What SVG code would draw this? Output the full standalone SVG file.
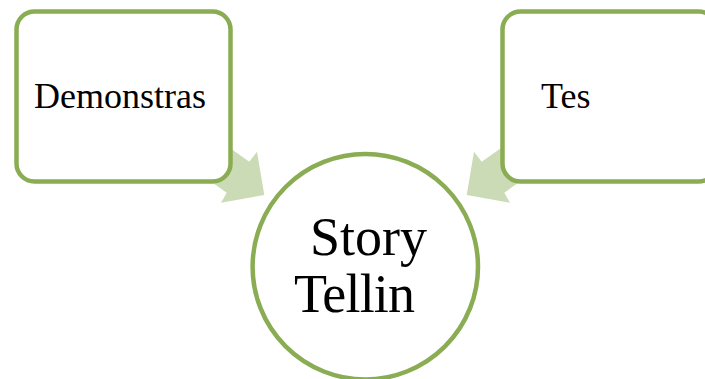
<svg xmlns="http://www.w3.org/2000/svg" width="705" height="379" viewBox="0 0 705 379">
  <style>
    .box { fill: #ffffff; stroke: #8aac52; stroke-width: 4.5; }
    .arrow { fill: #cbdbb5; stroke: none; }
    .lbl { font-family: "Liberation Serif", "Times New Roman", serif; fill: #000000; }
    .small { font-size: 36px; }
    .big { font-size: 54px; }
  </style>
  <rect width="705" height="379" fill="#ffffff"/>
  <g id="connectors">
    <polygon class="arrow" points="216.6,138.6 249.3,161.7 257,151.7 264.3,195 221,202.7 226.7,192.7 194,169.6"/>
    <polygon class="arrow" points="514.4,138.6 481.7,161.7 474,151.7 466.7,195 510,202.7 504.3,192.7 537,169.6"/>
  </g>
  <g id="node-demonstras">
    <rect class="box" x="16.5" y="11.5" width="214" height="170" rx="18" ry="18"/>
    <text class="lbl small" x="34" y="108.3">Demonstras</text>
  </g>
  <g id="node-tes">
    <rect class="box" x="502.5" y="11.5" width="214" height="170" rx="18" ry="18"/>
    <text class="lbl small" x="541" y="108.3">Tes</text>
  </g>
  <g id="node-story">
    <circle class="box" cx="365.3" cy="266.7" r="112.7"/>
    <text class="lbl big" x="310" y="255">Story</text>
    <text class="lbl big" x="294" y="311.7" textLength="121" lengthAdjust="spacing">Tellin</text>
  </g>
</svg>
